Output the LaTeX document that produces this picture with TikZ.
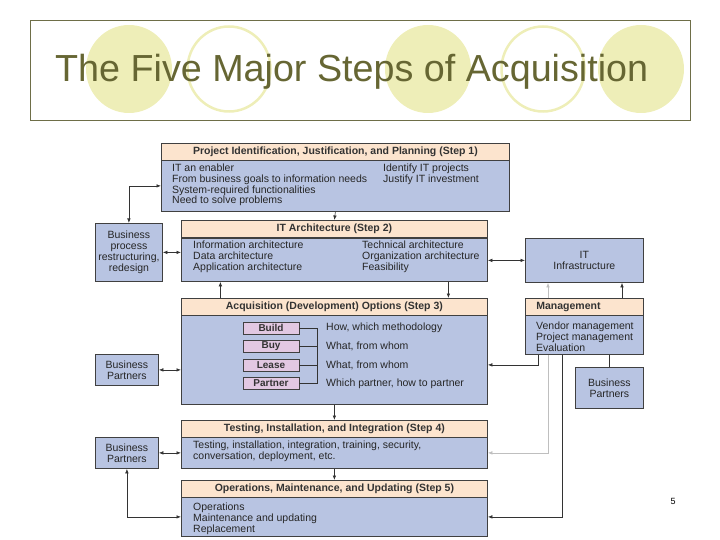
\documentclass[tikz,border=0pt]{standalone}
\usepackage{fontspec}
\setmainfont{Liberation Sans}
\usetikzlibrary{arrows.meta}

\definecolor{headfill}{RGB}{252,228,206}
\definecolor{bodyfill}{RGB}{184,196,226}
\definecolor{optfill}{RGB}{226,200,226}
\definecolor{boxline}{RGB}{64,64,64}
\definecolor{titlecol}{RGB}{102,102,51}
\definecolor{circcol}{RGB}{238,238,184}
\definecolor{framecol}{RGB}{110,110,72}

\tikzset{
  stephead/.style={draw=boxline, fill=headfill, line width=0.8pt, anchor=north west,
    minimum height=17pt, inner sep=0pt, text=black!80, font=\bfseries\fontsize{10.5}{11}\selectfont},
  stepbody/.style={draw=boxline, fill=bodyfill, line width=0.8pt, anchor=north west, inner sep=0pt},
  sidebox/.style={draw=boxline, fill=bodyfill, line width=0.8pt, anchor=north west, inner sep=0pt,
    align=center, text=black!85, font=\fontsize{10.5}{11}\selectfont},
  bodytext/.style={anchor=north west, inner sep=0pt, align=left, text=black!85,
    font=\fontsize{10.5}{10.6}\selectfont},
  optbox/.style={draw=boxline, fill=optfill, line width=0.7pt, minimum width=56pt,
    minimum height=12pt, inner sep=0pt, text=black!80, font=\bfseries\fontsize{10}{10}\selectfont},
  link/.style={line width=0.6pt, draw=black!80},
  arr/.style={link, -{Latex[length=4.5pt,width=3.5pt]}},
  dbl/.style={link, {Latex[length=4.5pt,width=3.5pt]}-{Latex[length=4.5pt,width=3.5pt]}},
  faint/.style={draw=black!25},
}

\begin{document}
\begin{tikzpicture}[x=1pt,y=-1pt]
  \useasboundingbox (0,0) rectangle (720,540);
  % title
  \foreach \cx in {129,428,641} \fill[circcol] (\cx,69) ellipse (43pt and 44pt);
  \foreach \cx in {229,543} \draw[circcol,line width=2.5pt] (\cx,69) ellipse (41.5pt and 42.5pt);
  \draw[framecol,line width=0.9pt] (30,20) rectangle (690,120);
  \node[anchor=base west,inner sep=0pt,text=titlecol,font=\fontsize{37.7}{40}\selectfont] (title) at (55,82) {The Five Major Steps of Acquisition};

  % steps
  \node[stephead,minimum width=348pt] (s1h) at (161,143) {Project Identification, Justification, and Planning (Step 1)};
  \node[stepbody,minimum width=348pt,minimum height=51pt] (s1b) at (161,160) {};
  \node[bodytext] (s1l) at (172,164) {IT an enabler\\From business goals to information needs\\System-required functionalities\\Need to solve problems};
  \node[bodytext] (s1r) at (383,164) {Identify IT projects\\Justify IT investment};

  \node[stephead,minimum width=306pt] (s2h) at (181,220) {IT Architecture (Step 2)};
  \node[stepbody,minimum width=306pt,minimum height=43pt] (s2b) at (181,238) {};
  \node[bodytext] (s2l) at (193,241) {Information architecture\\Data architecture\\Application architecture};
  \node[bodytext] (s2r) at (362,241) {Technical architecture\\Organization architecture\\Feasibility};

  \node[stephead,minimum width=306pt] (s3h) at (181,298) {Acquisition (Development) Options (Step 3)};
  \node[stepbody,minimum width=306pt,minimum height=89pt] (s3b) at (181,315) {};
  \foreach \nm/\lab/\desc [count=\i] in {build/Build/{How, which methodology},
      buy/Buy/{What, from whom}, lease/Lease/{What, from whom},
      partner/Partner/{Which partner, how to partner}} {
    \node[optbox] (\nm) at (271,{309.5+18.5*\i}) {\lab};
    \node[bodytext,anchor=west] (\nm-txt) at (326,{309.5+18.5*\i}) {\desc};
    \draw[link] (\nm.east) -- ++(18,0);
  }
  \draw[link] ([xshift=18pt]build.east) -- ([xshift=18pt]partner.east);

  \node[stephead,minimum width=306pt] (s4h) at (181,420) {Testing, Installation, and Integration (Step 4)};
  \node[stepbody,minimum width=306pt,minimum height=31pt] (s4b) at (181,437) {};
  \node[bodytext] (s4t) at (193,441) {Testing, installation, integration, training, security,\\conversation, deployment, etc.};

  \node[stephead,minimum width=306pt] (s5h) at (181,480) {Operations, Maintenance, and Updating (Step 5)};
  \node[stepbody,minimum width=306pt,minimum height=39pt] (s5b) at (181,497) {};
  \node[bodytext] (s5t) at (193,503) {Operations\\Maintenance and updating\\Replacement};

  % side boxes
  \node[sidebox,minimum width=67pt,minimum height=58pt] (bpr) at (95,223) {Business\\process\\restructuring,\\redesign};
  \node[sidebox,minimum width=63pt,minimum height=31pt] (bp1) at (95,354) {Business\\Partners};
  \node[sidebox,minimum width=63pt,minimum height=31pt] (bp2) at (95,437) {Business\\Partners};
  \node[sidebox,minimum width=118pt,minimum height=44pt] (infra) at (525,238) {IT\\Infrastructure};
  \node[stephead,minimum width=118pt,text width=96pt,inner xsep=11pt,align=left] (mh) at (525,298) {Management};
  \node[stepbody,minimum width=118pt,minimum height=39pt] (mb) at (525,315) {};
  \node[bodytext] (mt) at (536,322) {Vendor management\\Project management\\Evaluation};
  \node[sidebox,minimum width=68pt,minimum height=41pt] (bp3) at (575,367) {Business\\Partners};

  \node[inner sep=0pt,font=\fontsize{9}{9}\selectfont] (pnum) at (673,501) {5};

  % connectors
  \draw[dbl] (bpr.north) |- (s1b.west);
  \draw[arr] (s1b.south) -- (s2h.north);
  \draw[dbl] (bpr.east) -- (bpr.east -| s2b.west);
  \draw[dbl] (s2b.east |- infra.west) -- (infra.west);
  \draw[arr] ([xshift=-114pt]s3h.north) -- ([xshift=-114pt]s2b.south);
  \draw[arr] ([xshift=114pt]s2b.south) -- ([xshift=114pt]s3h.north);
  \draw[dbl] (bp1.east) -- (bp1.east -| s3b.west);
  \draw[arr] (s3b.south) -- (s4h.north);
  \draw[dbl] (bp2.east) -- (bp2.east -| s4b.west);
  \draw[arr] (s4b.south) -- (s5h.north);
  \draw[dbl] (s5b.west) -| (bp2.south);
  \draw[arr] ([xshift=13pt]mb.south west) |- ([yshift=-5pt]s3b.east);
  \draw[arr,faint] ([xshift=23pt]mb.south west) |- (s4b.east);
  \draw[arr,faint] ([xshift=23pt]mh.north west) -- ([xshift=23pt]infra.south west);
  \draw[arr] ([xshift=37pt]mb.south west) |- (s5b.east);
  \draw[arr] ([xshift=97pt]mh.north west) -- ([xshift=97pt]infra.south west);
  \draw[link] (bp3.north) -- (bp3.north |- mb.south);
\end{tikzpicture}
\end{document}
